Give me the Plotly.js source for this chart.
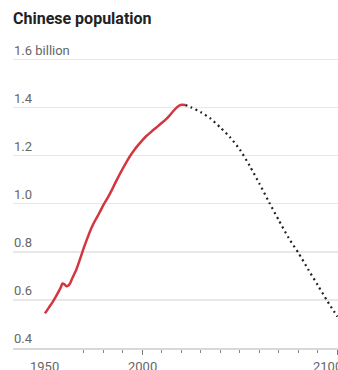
<!DOCTYPE html>
<html>
<head>
<meta charset="utf-8">
<script src="https://cdn.plot.ly/plotly-3.0.1.min.js"></script>
<style>
  html, body { margin: 0; padding: 0; background: #fff; }
  #chart { width: 338px; height: 370px; }
</style>
</head>
<body>
<div id="chart"></div>
<script>
// Estimated population of China, billions
const histYears = [1950, 1952, 1954, 1956, 1958, 1959, 1960, 1961, 1962, 1963, 1964, 1966, 1968, 1970,
                   1972, 1974, 1976, 1978, 1980, 1982, 1984, 1986, 1988, 1990, 1992, 1994, 1996, 1998,
                   2000, 2002, 2004, 2006, 2008, 2010, 2012, 2014, 2016, 2018, 2020, 2022];
const histPop   = [0.544, 0.568, 0.592, 0.620, 0.650, 0.668, 0.665, 0.657, 0.660, 0.671, 0.690, 0.724, 0.770, 0.818,
                   0.862, 0.902, 0.934, 0.963, 0.995, 1.022, 1.052, 1.085, 1.117, 1.147, 1.176, 1.202, 1.225, 1.245,
                   1.264, 1.281, 1.295, 1.309, 1.322, 1.336, 1.350, 1.367, 1.386, 1.403, 1.411, 1.410];

// Projected population, billions
const projYears = [2022, 2025, 2030, 2035, 2040, 2045, 2050, 2055, 2060, 2065,
                   2070, 2075, 2080, 2085, 2090, 2095, 2100];
const projPop   = [1.410, 1.400, 1.380, 1.353, 1.316, 1.275, 1.224, 1.157, 1.083, 1.005,
                   0.930, 0.857, 0.795, 0.727, 0.660, 0.593, 0.530];

// Axis ticks and labels
const yTickVals = [0.4, 0.6, 0.8, 1.0, 1.2, 1.4, 1.6];
const yTickText = ['0.4', '0.6', '0.8', '1.0', '1.2', '1.4', '1.6 billion'];
const xLabelYears = [1950, 2000, 2100];
const xMajorTicks = [2000, 2100];

const labelFont = { family: '"Liberation Sans Narrow", "Arial Narrow", Roboto, sans-serif', size: 13, color: '#666666' };

const traces = [
  {
    x: histYears, y: histPop, type: 'scatter', mode: 'lines',
    line: { color: '#d4363f', width: 2.5, shape: 'spline', smoothing: 0.6 },
    hoverinfo: 'skip'
  },
  {
    x: projYears, y: projPop, type: 'scatter', mode: 'lines',
    line: { color: '#222222', width: 2.2, dash: '2px,3.5px', shape: 'spline', smoothing: 0.6 },
    hoverinfo: 'skip'
  }
];

const xAnnotations = xLabelYears.map((yr, i) => ({
  x: yr, xref: 'x', y: 0, yref: 'paper',
  text: String(yr), showarrow: false,
  xanchor: 'center', yanchor: 'top',
  xshift: i === xLabelYears.length - 1 ? -10 : 0,
  yshift: -9,
  font: labelFont
}));

const layout = {
  width: 338, height: 370,
  margin: { l: 13, r: 0, t: 40, b: 22 },
  paper_bgcolor: '#ffffff', plot_bgcolor: '#ffffff',
  showlegend: false,
  title: {
    text: '<b>Chinese population</b>',
    font: { family: 'Roboto, "Open Sans", sans-serif', size: 16, color: '#222222' },
    xref: 'paper', x: 0, xanchor: 'left',
    yref: 'container', y: 1 - 18 / 370, yanchor: 'middle'
  },
  xaxis: {
    range: [1933.6, 2100.3],
    showgrid: false, zeroline: false,
    showline: true, linecolor: '#d9d9d9', linewidth: 1.5,
    tickmode: 'array', tickvals: xMajorTicks, showticklabels: false,
    ticks: 'outside', ticklen: 5, tickwidth: 1, tickcolor: '#777777',
    minor: { tick0: 1950, dtick: 10, ticks: 'outside', ticklen: 3, tickwidth: 1, tickcolor: '#888888', showgrid: false },
    fixedrange: true
  },
  yaxis: {
    range: [0.4, 1.68],
    tickmode: 'array', tickvals: yTickVals, ticktext: yTickText,
    ticklabelposition: 'inside top',
    ticklabelstandoff: -2,
    ticks: '', showline: false, zeroline: false,
    showgrid: true, gridcolor: '#e8e8e8', gridwidth: 1.5,
    tickfont: labelFont,
    fixedrange: true
  },
  annotations: xAnnotations
};

Plotly.newPlot('chart', traces, layout, { displayModeBar: false, staticPlot: true });
</script>
</body>
</html>
